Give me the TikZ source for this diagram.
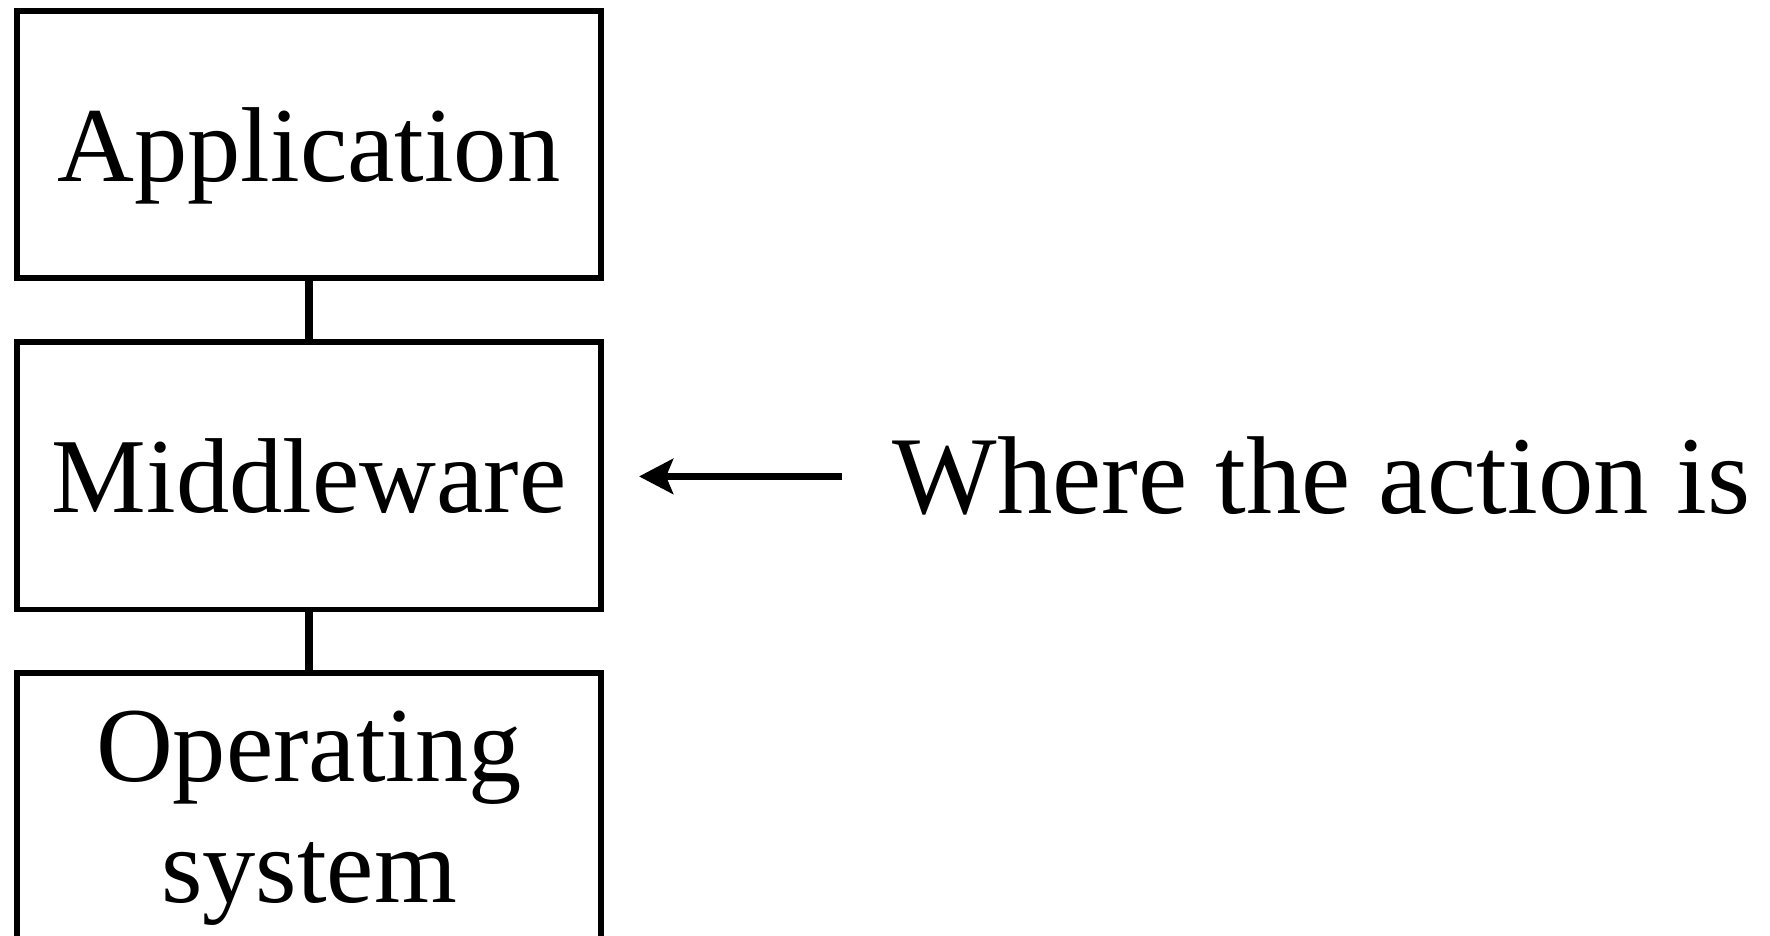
\documentclass[tikz,border=0pt]{standalone}
\usepackage{fontspec}
\setmainfont{Liberation Serif}
\usetikzlibrary{positioning,arrows.meta}

\begin{document}
\begin{tikzpicture}[node distance=0.58cm,
		layer/.style={draw, line width=1.6pt, minimum width=5.845cm, minimum height=2.675cm, align=center, text depth=0pt, font=\fontsize{30.3}{34.4}\selectfont},
		link/.style={line width=2.2pt},
		pointer/.style={line width=2.2pt, -{Stealth[length=0.34cm,width=0.35cm,inset=0.07cm]}}]
		\useasboundingbox (0,0) rectangle (17.7,9.35);
		% the three layers
		\node[layer] (app) at (3.09,7.905) {Application};
		\node[layer, below=of app] (mid) {Middleware};
		\node[layer, below=of mid] (os) {Operating\\system};
		\draw[link] (app) -- (mid);
		\draw[link] (mid) -- (os);
		% label pointing at the middle layer
		\node[anchor=base west, inner sep=0pt, font=\fontsize{31.5}{36}\selectfont] (action) at (8.92,4.21) {Where the action is};
		\draw[pointer, shorten <=0.5cm, shorten >=0.35cm] (action.west) -- (action.west -| mid.east);
		%\draw (action.west) node[left] {};
\end{tikzpicture}
\end{document}
